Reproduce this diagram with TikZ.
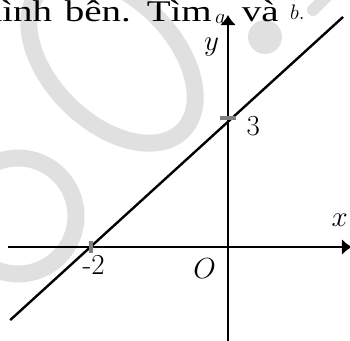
\RequirePackage{fix-cm}
\documentclass[tikz,border=0pt]{standalone}
\usepackage{fontspec}
\newfontfamily\vnfont[FakeStretch=1.3, WordSpace=1.3]{Liberation Serif}
\usetikzlibrary{arrows.meta}

\begin{document}
\begin{tikzpicture}[x=68.5pt, y=43pt,
  axis/.style={draw, line width=2.8pt, -{Latex[length=10pt, width=16pt]}},
  graph/.style={draw, line width=2.4pt},
  tick/.style={draw=gray, line width=3.5pt},
  lbl/.style={inner sep=0pt, font=\fontsize{29}{31}\selectfont},
  txtstyle/.style={inner sep=0pt, font=\vnfont\fontsize{30}{32}\selectfont},
  varstyle/.style={inner sep=0pt, font=\fontsize{21}{22}\selectfont},
  wm/.style={draw=black!12, line width=17pt}
]

% Frame
\path[use as bounding box, clip] (-3.3285,-2.163) rectangle (1.781,5.744);

% Watermark
\begin{scope}[shift={(-3.3285,5.744)}, x=1pt, y=-1pt]
  \draw[wm] (112,60) ellipse [x radius=100, y radius=62, rotate=-45];
  \draw[wm] (18,216) circle [radius=58];
  \fill[black!12] (265,37) circle [radius=17];
  \draw[wm, line width=12pt, line cap=round] (313,10) -- (335,-12);
\end{scope}

% Top text
\node[txtstyle, anchor=base east] (txt) at (-0.234,5.233) {hình bên. Tìm};
\node[varstyle, anchor=base west] (avar) at (-0.19,5.2) {$a$};
\node[txtstyle, anchor=base west] (va) at (0.2,5.233) {và};
\node[varstyle, anchor=base west] (bvar) at (0.905,5.28) {$b.$};

% Coordinates
\coordinate (O) at (0,0);
\coordinate (xl) at (-3.21,0);
\coordinate (xr) at (1.81,0);
\coordinate (yb) at (0,-2.25);
\coordinate (yt) at (0,5.395);
\coordinate (gl) at (-3.18,-1.70);
\coordinate (gr) at (1.68,5.35);
\coordinate (m2) at (-2,0);
\coordinate (p3) at (0,3);

% Axes
\draw[axis] (xl) -- (xr);
\draw[axis] (yb) -- (yt);

% Graph
\draw[graph] (gl) -- (gr);

% Ticks
\draw[tick] ([yshift=-6pt]m2) -- ([yshift=6pt]m2);
\draw[tick] ([xshift=-8pt]p3) -- ([xshift=8pt]p3);

% Labels
\node[lbl] (ylab) at (-0.24,4.64) {$y$};
\node[lbl] (xlab) at (1.63,0.63) {$x$};
\node[lbl] (lab3) at (0.37,2.81) {3};
\node[lbl] (labm2) at (-1.96,-0.42) {-2};
\node[lbl] (labO) at (-0.34,-0.51) {$O$};

\end{tikzpicture}
\end{document}
